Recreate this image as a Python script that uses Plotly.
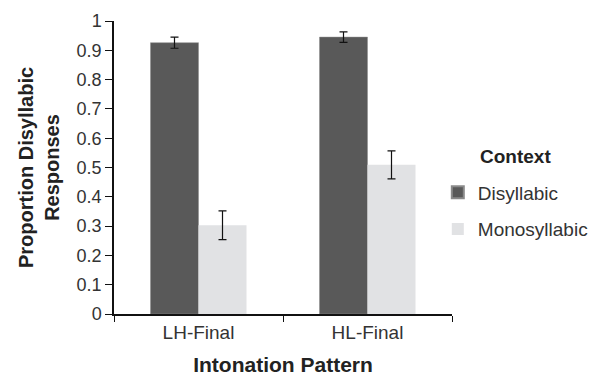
import plotly.graph_objects as go

categories = ["LH-Final", "HL-Final"]
disyllabic = [0.926, 0.945]
disyllabic_err = [0.019, 0.018]
monosyllabic = [0.303, 0.509]
monosyllabic_err = [0.049, 0.048]
y_ticks = [0, 0.1, 0.2, 0.3, 0.4, 0.5, 0.6, 0.7, 0.8, 0.9, 1]
y_tick_text = ["0", "0.1", "0.2", "0.3", "0.4", "0.5", "0.6", "0.7", "0.8", "0.9", "1"]

font_family = "Liberation Sans, Arial, sans-serif"

fig = go.Figure()
fig.add_trace(go.Bar(
    name="Disyllabic", x=categories, y=disyllabic, legendgroup="a",
    marker=dict(color="#595959", line=dict(color="#8a8a8a", width=0.5)),
    error_y=dict(type="data", array=disyllabic_err, color="#111111", thickness=1.2, width=4),
))
fig.add_trace(go.Bar(
    name="Monosyllabic", x=categories, y=monosyllabic, legendgroup="b",
    marker=dict(color="#e1e2e4", line=dict(width=0)),
    error_y=dict(type="data", array=monosyllabic_err, color="#111111", thickness=1.2, width=4),
))

fig.add_annotation(
    text="<b>Context</b>", xref="paper", yref="paper", x=1.078, y=0.538,
    xanchor="left", yanchor="middle", showarrow=False,
    font=dict(size=19, family=font_family, color="#222222"),
)

fig.update_layout(
    width=593, height=376,
    margin=dict(l=114, r=141, t=21, b=62, autoexpand=False),
    paper_bgcolor="white", plot_bgcolor="white",
    barmode="group", bargap=0.432, bargroupgap=0,
    font=dict(family=font_family, color="#222222", size=18),
    showlegend=True,
    legend=dict(
        x=0.958, xanchor="left", y=0.48, yanchor="top",
        font=dict(size=19, family=font_family, color="#333333"),
        itemsizing="constant", tracegroupgap=9,
    ),
    xaxis=dict(
        showline=True, linecolor="#111111", linewidth=1.5,
        ticks="outside", tickson="boundaries", ticklen=6, tickcolor="#111111", tickwidth=1,
        tickfont=dict(size=19, color="#333333"),
        title=dict(text="<b>Intonation Pattern</b>", font=dict(size=21, color="#222222"), standoff=16),
        showgrid=False,
    ),
    yaxis=dict(
        range=[0, 1], tickvals=y_ticks, ticktext=y_tick_text,
        showline=True, linecolor="#111111", linewidth=1.5,
        ticks="outside", ticklen=7, tickcolor="#111111", tickwidth=1,
        tickfont=dict(size=18, color="#333333"),
        showgrid=False, zeroline=False,
        title=dict(text="<b>Proportion Disyllabic<br>Responses</b>", font=dict(size=20, color="#222222"), standoff=12),
    ),
)

fig.write_html("out.html")
